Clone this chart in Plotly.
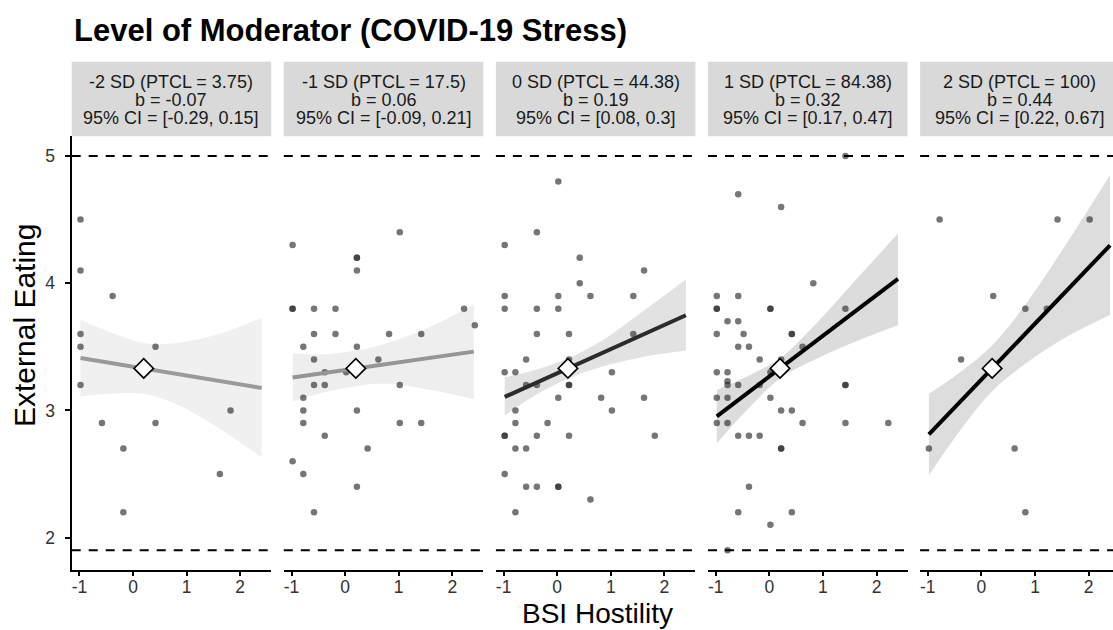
import plotly.graph_objects as go

# ---------------- data ----------------
sd_labels = ["-2 SD (PTCL = 3.75)", "-1 SD (PTCL = 17.5)", "0 SD (PTCL = 44.38)",
             "1 SD (PTCL = 84.38)", "2 SD (PTCL = 100)"]
b_labels = ["b = -0.07", "b = 0.06", "b = 0.19", "b = 0.32", "b = 0.44"]
ci_labels = ["95% CI = [-0.29, 0.15]", "95% CI = [-0.09, 0.21]", "95% CI = [0.08, 0.3]",
             "95% CI = [0.17, 0.47]", "95% CI = [0.22, 0.67]"]
slopes = [-0.07, 0.06, 0.19, 0.32, 0.44]
center_x = 0.2
center_y = 3.33
line_x = [-0.98, 2.40]
x_ticks = [-1, 0, 1, 2]
y_ticks = [2, 3, 4, 5]
ref_lines = [5.0, 1.9]

p1_x = [-0.98, -0.98, -0.38, -0.98, -0.98, 0.42, -0.98, 1.82, -0.58, 0.42, -0.18, 1.62, -0.18]
p1_y = [4.5, 4.1, 3.9, 3.6, 3.5, 3.5, 3.2, 3.0, 2.9, 2.9, 2.7, 2.5, 2.2]

p2_x = [-0.98, 1.02, 0.22, 0.22, 0.22, -0.98, -0.98, -0.58, -0.18, 2.22, 2.42, -0.58,
        -0.18, 0.82, 1.42, -0.78, 0.22, -0.58, 0.62, -0.38, 0.02, -0.58, -0.38, 1.02,
        -0.78, -0.78, 0.22, -0.78, 1.02, 1.42, -0.38, 0.42, -0.98, -0.78, 0.22, -0.58]
p2_y = [4.3, 4.4, 4.2, 4.2, 4.1, 3.8, 3.8, 3.8, 3.8, 3.8, 3.67, 3.6,
        3.6, 3.6, 3.6, 3.5, 3.5, 3.4, 3.4, 3.3, 3.3, 3.2, 3.2, 3.2,
        3.1, 3.0, 3.0, 2.9, 2.9, 2.9, 2.8, 2.7, 2.6, 2.5, 2.4, 2.2]

p3_x = [0.02, -0.38, -0.98, 0.42, 1.62, 0.42, -0.98, 0.02, 0.62, 1.42, -0.98, -0.38,
        0.02, -0.38, 0.22, 1.42, -0.58, 0.22, -0.98, -0.78, 1.02, -0.58, -0.38, 0.22,
        0.22, 0.02, 0.82, 1.62, -0.78, 1.02, -0.78, -0.18, -0.98, -0.98, -0.38, 0.22,
        1.82, -0.78, -0.58, -0.98, -0.58, -0.38, 0.02, 0.02, 0.62, -0.78]
p3_y = [4.8, 4.4, 4.3, 4.2, 4.1, 4.0, 3.9, 3.9, 3.9, 3.9, 3.8, 3.8,
        3.8, 3.6, 3.6, 3.6, 3.4, 3.4, 3.3, 3.3, 3.3, 3.2, 3.2, 3.2,
        3.2, 3.1, 3.1, 3.1, 3.0, 3.0, 2.9, 2.9, 2.8, 2.8, 2.8, 2.8,
        2.8, 2.7, 2.7, 2.5, 2.4, 2.4, 2.4, 2.4, 2.3, 2.2]

p4_x = [1.42, -0.58, 0.22, 0.82, -0.98, -0.58, -0.98, -0.98, 0.02, 0.02, 1.42, -0.78,
        -0.58, -0.98, -0.48, 0.42, 0.42, -0.58, -0.38, 0.62, -0.18, 0.22, -0.98, -0.78,
        0.02, -0.78, -0.78, -0.58, -0.18, 1.42, 1.42, -0.98, -0.78, 0.02, 0.22, 0.42,
        -0.98, -0.78, 0.62, 1.42, 2.22, -0.58, -0.38, -0.18, 0.22, 0.22, -0.38, -0.58,
        0.42, 0.02, -0.78]
p4_y = [5.0, 4.7, 4.6, 4.0, 3.9, 3.9, 3.8, 3.8, 3.8, 3.8, 3.8, 3.7,
        3.7, 3.6, 3.6, 3.6, 3.6, 3.5, 3.5, 3.5, 3.4, 3.4, 3.3, 3.3,
        3.3, 3.23, 3.2, 3.2, 3.2, 3.2, 3.2, 3.1, 3.1, 3.1, 3.0, 3.0,
        2.9, 2.9, 2.9, 2.9, 2.9, 2.8, 2.8, 2.8, 2.7, 2.7, 2.4, 2.2,
        2.2, 2.1, 1.9]

p5_x = [-0.78, 1.42, 2.02, 0.22, 0.82, 1.22, -0.38, -0.98, 0.62, 0.82]
p5_y = [4.5, 4.5, 4.5, 3.9, 3.8, 3.8, 3.4, 2.7, 2.7, 2.2]

band_x = [-0.98, -0.4, 0.2, 0.8, 1.6, 2.4]
p1_upper = [3.71, 3.61, 3.53, 3.53, 3.60, 3.73]
p1_lower = [3.11, 3.13, 3.13, 3.05, 2.86, 2.63]
p2_upper = [3.45, 3.44, 3.47, 3.53, 3.66, 3.83]
p2_lower = [3.07, 3.14, 3.19, 3.21, 3.16, 3.09]
p3_upper = [3.26, 3.32, 3.41, 3.54, 3.78, 4.03]
p3_lower = [2.96, 3.12, 3.25, 3.34, 3.42, 3.47]
p4_upper = [3.16, 3.27, 3.41, 3.65, 4.02, 4.39]
p4_lower = [2.74, 3.01, 3.25, 3.39, 3.54, 3.67]
p5_upper = [3.13, 3.30, 3.51, 3.82, 4.32, 4.85]
p5_lower = [2.49, 2.84, 3.15, 3.36, 3.58, 3.75]

# ---------------- styles ----------------
points_x = [p1_x, p2_x, p3_x, p4_x, p5_x]
points_y = [p1_y, p2_y, p3_y, p4_y, p5_y]
uppers = [p1_upper, p2_upper, p3_upper, p4_upper, p5_upper]
lowers = [p1_lower, p2_lower, p3_lower, p4_lower, p5_lower]
line_colors = ["#9a9a9a", "#959595", "#2b2b2b", "#000000", "#000000"]
band_colors = ["#f0f0f0", "#eeeeee", "#e2e2e2", "#dcdcdc", "#dddddd"]

W, H = 1113, 630
FONT = "Liberation Sans, Arial, Helvetica, sans-serif"
PX_PER_UNIT = 53.6
X_LEFT = -1.144
PITCH = 212.1
PANEL_W = 199.5
FIRST_LEFT = 71.7
TOP_PX, BOT_PX = 136.3, 570.0
STRIP_TOP = 61.7
Y_RANGE = [1.745, 5.155]


def px_x(p):
    return p / W


def px_y(p):
    return 1 - p / H


fig = go.Figure()
shapes = []
annotations = []

for i in range(5):
    xa = "x" if i == 0 else f"x{i+1}"
    ya = "y" if i == 0 else f"y{i+1}"
    left = FIRST_LEFT + i * PITCH
    right = min(left + PANEL_W, W)
    xr = [X_LEFT, X_LEFT + (right - left) / PX_PER_UNIT]

    # confidence band
    fig.add_trace(go.Scatter(x=band_x, y=lowers[i], mode="lines", line=dict(width=0, shape="spline"),
                             xaxis=xa, yaxis=ya, showlegend=False, hoverinfo="skip"))
    fig.add_trace(go.Scatter(x=band_x, y=uppers[i], mode="lines", line=dict(width=0, shape="spline"),
                             fill="tonexty", fillcolor=band_colors[i],
                             xaxis=xa, yaxis=ya, showlegend=False, hoverinfo="skip"))
    # points
    fig.add_trace(go.Scatter(x=points_x[i], y=points_y[i], mode="markers",
                             marker=dict(size=6.5, color="rgba(40,40,40,0.64)", line=dict(width=0)),
                             xaxis=xa, yaxis=ya, showlegend=False))
    # regression line
    ly = [center_y + slopes[i] * (lx - center_x) for lx in line_x]
    fig.add_trace(go.Scatter(x=line_x, y=ly, mode="lines",
                             line=dict(color=line_colors[i], width=4),
                             xaxis=xa, yaxis=ya, showlegend=False))
    # centre diamond
    fig.add_trace(go.Scatter(x=[center_x], y=[center_y], mode="markers",
                             marker=dict(symbol="diamond", size=15, color="white",
                                         line=dict(color="black", width=1.6)),
                             xaxis=xa, yaxis=ya, showlegend=False))

    # dashed reference lines
    for rv in ref_lines:
        shapes.append(dict(type="line", xref=f"{xa} domain", yref=ya, x0=0, x1=1, y0=rv, y1=rv,
                           line=dict(color="black", width=2, dash="9px,8px"), layer="above"))

    # strip
    shapes.append(dict(type="rect", xref="paper", yref="paper",
                       x0=px_x(left), x1=px_x(right), y0=px_y(TOP_PX), y1=px_y(STRIP_TOP),
                       fillcolor="#d9d9d9", line=dict(width=0), layer="below"))
    cx = px_x((left + left + PANEL_W) / 2)
    for txt, yy in zip([sd_labels[i], b_labels[i], ci_labels[i]], [81.7, 100.0, 118.3]):
        annotations.append(dict(text=txt, x=cx, y=px_y(yy), xref="paper", yref="paper",
                                xanchor="center", yanchor="middle", showarrow=False,
                                font=dict(size=18, color="#1a1a1a", family=FONT)))

    common = dict(showgrid=False, zeroline=False, ticks="outside", ticklen=4.5, tickwidth=1.5,
                  tickcolor="black", showline=True, linecolor="black", linewidth=1.5,
                  tickfont=dict(size=17.5, color="#333333", family=FONT))
    fig.layout[("xaxis" if i == 0 else f"xaxis{i+1}")] = dict(
        domain=[px_x(left), px_x(right)], range=xr, anchor=ya, ticklabelstandoff=-4,
        tickvals=x_ticks, ticktext=[str(t) for t in x_ticks], **common)
    yax = dict(domain=[px_y(BOT_PX), px_y(TOP_PX)], range=Y_RANGE, anchor=xa,
               tickvals=y_ticks, **common)
    if i > 0:
        yax.update(showline=False, ticks="", showticklabels=False)
    else:
        yax.update(ticklabelstandoff=7)
    fig.layout[("yaxis" if i == 0 else f"yaxis{i+1}")] = yax

# titles
annotations.append(dict(text="<b>Level of Moderator (COVID-19 Stress)</b>", x=px_x(71.5), y=px_y(30),
                        xref="paper", yref="paper", xanchor="left", yanchor="middle", showarrow=False,
                        font=dict(size=31, color="black", family=FONT)))
annotations.append(dict(text="BSI Hostility", x=px_x(597.5), y=0, xref="paper", yref="paper",
                        xanchor="center", yanchor="bottom", showarrow=False, borderpad=0,
                        font=dict(size=28, color="black", family=FONT)))
annotations.append(dict(text="External Eating", x=px_x(24), y=px_y(326), xref="paper", yref="paper",
                        xanchor="center", yanchor="middle", showarrow=False, textangle=-90,
                        font=dict(size=30, color="black", family=FONT)))

fig.update_layout(width=W, height=H, margin=dict(l=0, r=0, t=0, b=0, pad=0),
                  paper_bgcolor="white", plot_bgcolor="white",
                  shapes=shapes, annotations=annotations, showlegend=False,
                  font=dict(family=FONT))

fig.write_html("out.html", config={"displayModeBar": False},
               post_script="document.body.style.margin='0';document.body.style.padding='0';"
                           "document.body.style.overflow='hidden';")
